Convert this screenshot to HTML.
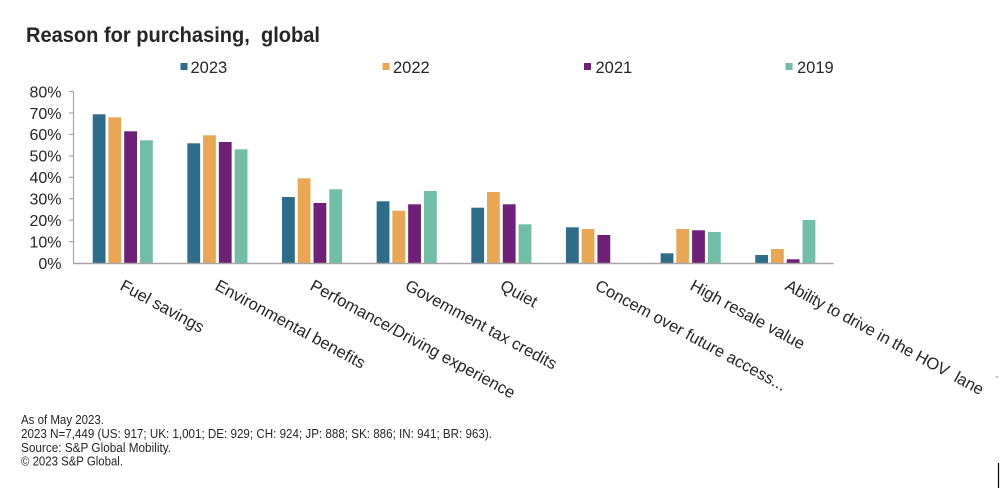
<!DOCTYPE html>
<html>
<head>
<meta charset="utf-8">
<style>
  html, body { margin: 0; padding: 0; background: #ffffff; }
  svg { display: block; }
  text { font-family: "Liberation Sans", Arial, sans-serif; fill: #262626; }
</style>
</head>
<body>
<svg width="1001" height="488" viewBox="0 0 1001 488" xmlns="http://www.w3.org/2000/svg">
  <rect x="0" y="0" width="1001" height="488" fill="#ffffff"/>

  <!-- Title -->
  <text x="26" y="42" font-size="21" font-weight="bold" textLength="294" lengthAdjust="spacingAndGlyphs" fill="#1a1a1a">Reason for purchasing,&#160; global</text>

  <!-- Legend -->
  <rect x="180.5" y="63" width="7" height="7" fill="#2e6d89"/>
  <text x="190.5" y="73" font-size="16.5">2023</text>
  <rect x="382.5" y="63" width="7" height="7" fill="#e9a754"/>
  <text x="393" y="73" font-size="16.5">2022</text>
  <rect x="584" y="63" width="7" height="7" fill="#6e2079"/>
  <text x="595.5" y="73" font-size="16.5">2021</text>
  <rect x="785.5" y="63" width="7" height="7" fill="#6fbea5"/>
  <text x="797" y="73" font-size="16.5">2019</text>

  <!-- Y axis -->
  <g stroke="#a6a6a6" stroke-width="1.2" fill="none">
    <line x1="73.5" y1="91.5" x2="73.5" y2="263.3"/>
    <line x1="69" y1="91.5" x2="73.5" y2="91.5"/>
    <line x1="69" y1="112.95" x2="73.5" y2="112.95"/>
    <line x1="69" y1="134.4" x2="73.5" y2="134.4"/>
    <line x1="69" y1="155.85" x2="73.5" y2="155.85"/>
    <line x1="69" y1="177.3" x2="73.5" y2="177.3"/>
    <line x1="69" y1="198.75" x2="73.5" y2="198.75"/>
    <line x1="69" y1="220.2" x2="73.5" y2="220.2"/>
    <line x1="69" y1="241.65" x2="73.5" y2="241.65"/>
  </g>
  <g font-size="16" text-anchor="end">
    <text x="61.5" y="97.3">80%</text>
    <text x="61.5" y="118.75">70%</text>
    <text x="61.5" y="140.2">60%</text>
    <text x="61.5" y="161.65">50%</text>
    <text x="61.5" y="183.1">40%</text>
    <text x="61.5" y="204.55">30%</text>
    <text x="61.5" y="226">20%</text>
    <text x="61.5" y="247.45">10%</text>
    <text x="61.5" y="268.9">0%</text>
  </g>

  <!-- Bars -->
  <g>
    <!-- Group 1 -->
    <rect x="92.7" y="114.3" width="12.8" height="149" fill="#2e6d89"/>
    <rect x="108.4" y="117.3" width="12.8" height="146" fill="#e9a754"/>
    <rect x="124.2" y="131.3" width="12.8" height="132" fill="#6e2079"/>
    <rect x="140" y="140.3" width="12.8" height="123" fill="#6fbea5"/>
    <!-- Group 2 -->
    <rect x="187.35" y="143.3" width="12.8" height="120" fill="#2e6d89"/>
    <rect x="203.05" y="135.3" width="12.8" height="128" fill="#e9a754"/>
    <rect x="218.85" y="142" width="12.8" height="121.3" fill="#6e2079"/>
    <rect x="234.65" y="149.3" width="12.8" height="114" fill="#6fbea5"/>
    <!-- Group 3 -->
    <rect x="282" y="197" width="12.8" height="66.3" fill="#2e6d89"/>
    <rect x="297.7" y="178.3" width="12.8" height="85" fill="#e9a754"/>
    <rect x="313.5" y="203" width="12.8" height="60.3" fill="#6e2079"/>
    <rect x="329.3" y="189.3" width="12.8" height="74" fill="#6fbea5"/>
    <!-- Group 4 -->
    <rect x="376.65" y="201.3" width="12.8" height="62" fill="#2e6d89"/>
    <rect x="392.35" y="210.7" width="12.8" height="52.6" fill="#e9a754"/>
    <rect x="408.15" y="204.3" width="12.8" height="59" fill="#6e2079"/>
    <rect x="423.95" y="191" width="12.8" height="72.3" fill="#6fbea5"/>
    <!-- Group 5 -->
    <rect x="471.3" y="207.7" width="12.8" height="55.6" fill="#2e6d89"/>
    <rect x="487" y="192" width="12.8" height="71.3" fill="#e9a754"/>
    <rect x="502.8" y="204.3" width="12.8" height="59" fill="#6e2079"/>
    <rect x="518.6" y="224.3" width="12.8" height="39" fill="#6fbea5"/>
    <!-- Group 6 -->
    <rect x="565.95" y="227.3" width="12.8" height="36" fill="#2e6d89"/>
    <rect x="581.65" y="229" width="12.8" height="34.3" fill="#e9a754"/>
    <rect x="597.45" y="235" width="12.8" height="28.3" fill="#6e2079"/>
    <!-- Group 7 -->
    <rect x="660.6" y="253.3" width="12.8" height="10" fill="#2e6d89"/>
    <rect x="676.3" y="229" width="12.8" height="34.3" fill="#e9a754"/>
    <rect x="692.1" y="230.3" width="12.8" height="33" fill="#6e2079"/>
    <rect x="707.9" y="232" width="12.8" height="31.3" fill="#6fbea5"/>
    <!-- Group 8 -->
    <rect x="755.25" y="255" width="12.8" height="8.3" fill="#2e6d89"/>
    <rect x="770.95" y="249" width="12.8" height="14.3" fill="#e9a754"/>
    <rect x="786.75" y="259.3" width="12.8" height="4" fill="#6e2079"/>
    <rect x="802.55" y="220" width="12.8" height="43.3" fill="#6fbea5"/>
  </g>

  <!-- X axis -->
  <line x1="73" y1="263.5" x2="833.5" y2="263.5" stroke="#a6a6a6" stroke-width="1.4"/>

  <!-- Category labels -->
  <g font-size="16.5">
    <text transform="translate(119,289) rotate(28.5)">Fuel savings</text>
    <text transform="translate(214,289) rotate(28.5)">Environmental benefits</text>
    <text transform="translate(309,289) rotate(28.5)">Perfomance/Driving experience</text>
    <text transform="translate(404,289) rotate(28.5)">Govemment tax credits</text>
    <text transform="translate(499,289) rotate(28.5)">Quiet</text>
    <text transform="translate(594,289) rotate(28.5)">Concem over future access...</text>
    <text transform="translate(689,289) rotate(28.5)">High resale value</text>
    <text transform="translate(784,289) rotate(28.5)" textLength="223" lengthAdjust="spacing">Ability to drive in the HOV&#160; lane</text>
  </g>

  <!-- Footer -->
  <g font-size="12.5" fill="#222">
    <text x="21" y="424" textLength="83" lengthAdjust="spacingAndGlyphs">As of May 2023.</text>
    <text x="21" y="438" textLength="471" lengthAdjust="spacingAndGlyphs">2023 N=7,449 (US: 917; UK: 1,001; DE: 929; CH: 924; JP: 888; SK: 886; IN: 941; BR: 963).</text>
    <text x="21" y="452" textLength="150" lengthAdjust="spacingAndGlyphs">Source: S&amp;P Global Mobility.</text>
    <text x="21" y="465.5" textLength="102" lengthAdjust="spacingAndGlyphs">© 2023 S&amp;P Global.</text>
  </g>

  <!-- Edge artifacts -->
  <line x1="995.5" y1="377" x2="998.5" y2="377" stroke="#999" stroke-width="1"/>
  <line x1="998.5" y1="463" x2="998.5" y2="488" stroke="#000" stroke-width="1.2"/>
</svg>
</body>
</html>
